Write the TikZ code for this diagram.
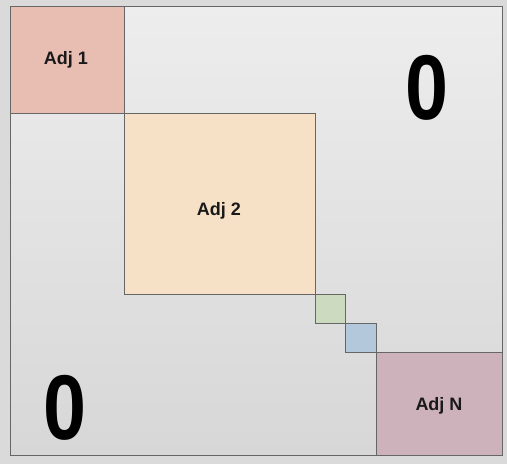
\documentclass[tikz,border=0pt]{standalone}
\usepackage{fontspec}
\setmainfont{Liberation Sans}
\definecolor{bgout}{HTML}{DADADA}
\definecolor{intop}{HTML}{EDEDED}
\definecolor{inbot}{HTML}{D7D7D7}
\definecolor{adjone}{HTML}{E8BEB3}
\definecolor{adjtwo}{HTML}{F6E1C7}
\definecolor{gblk}{HTML}{CCDBC0}
\definecolor{bblk}{HTML}{B4C8DC}
\definecolor{adjn}{HTML}{CDB2BC}
\definecolor{edge}{HTML}{666666}
\begin{document}
\begin{tikzpicture}[x=1pt,y=-1pt,
  blk/.style={draw=edge,line width=1pt},
  lbl/.style={font=\fontsize{18}{20}\selectfont\bfseries,text=black!90},
  zero/.style={font=\fontsize{92}{92}\selectfont\bfseries,text=black,xscale=0.84}]
\useasboundingbox (0,0) rectangle (507,464);
\fill[bgout] (0,0) rectangle (507,464);
\shade[top color=intop,bottom color=inbot] (10,6) rectangle (502,455);
\draw[blk] (10,6) rectangle (502,455);
\draw[blk,fill=adjone] (10,6) rectangle (124,113);
\draw[blk,fill=adjtwo] (124,113) rectangle (315,294);
\draw[blk,fill=gblk] (315,294) rectangle (345,323);
\draw[blk,fill=bblk] (345,323) rectangle (376,352);
\draw[blk,fill=adjn] (376,352) rectangle (502,455);
\node[lbl] (a1) at (66,60) {Adj 1};
\node[lbl] (a2) at (219,211) {Adj 2};
\node[lbl] (an) at (439,406) {Adj N};
\node[zero] (z1) at (427,88) {0};
\node[zero] (z2) at (65,408) {0};
\end{tikzpicture}
\end{document}
